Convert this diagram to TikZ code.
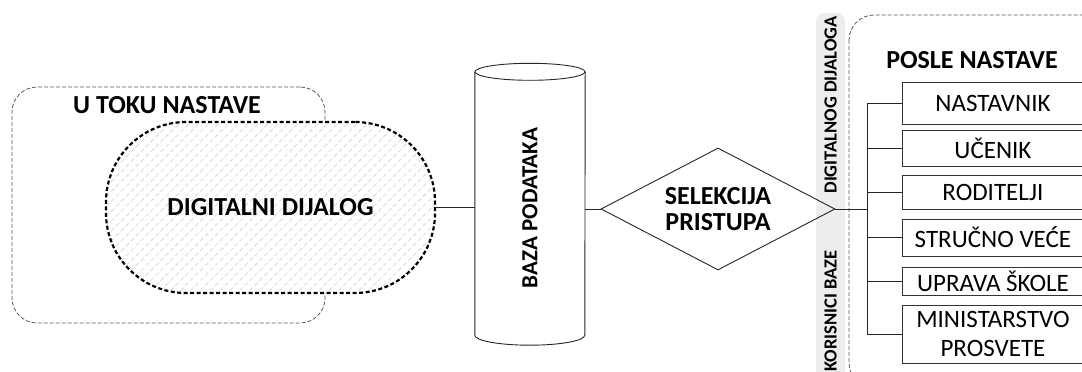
\documentclass[tikz,border=0pt]{standalone}
\usepackage{fontspec}
\setmainfont{Carlito}
\usetikzlibrary{shapes.geometric,patterns.meta}

\begin{document}
\begin{tikzpicture}[x=1pt,y=-1pt]
        \tikzset{frame/.style={draw=black!65,dash pattern=on 4pt off 2pt,line width=.8pt,rounded corners=25pt}}
        \tikzset{head/.style={font=\fontsize{26}{26}\selectfont\bfseries,align=center}}
        \tikzset{side/.style={font=\fontsize{18.5}{20}\selectfont\bfseries,rotate=90}}
        \tikzset{link/.style={draw=black!85,line width=.9pt}}
        \tikzset{user/.style={draw=black!80,line width=.9pt,minimum width=181pt,anchor=west,align=center,inner sep=0pt,font=\fontsize{25}{29}\selectfont}}
        \useasboundingbox (0,0) rectangle (1082,372);
        \clip (0,0) rectangle (1082,372);

        % u toku nastave
        \node[frame,minimum width=313pt,minimum height=236pt] (toku) at (168.5,205) {};
        \node[head] (tokuText) at (167,105) {U TOKU NASTAVE};
        \node[draw,line width=2.2pt,dash pattern=on 4pt off 2.5pt,rounded corners=80pt,
              minimum width=329pt,minimum height=171pt,preaction={fill=white},
              pattern={Lines[angle=45,distance=7pt,line width=.8pt]},pattern color=black!15,head]
              (dijalog) at (270.5,207.5) {DIGITALNI DIJALOG};

        % baza podataka
        \node[minimum width=110pt,minimum height=263pt,inner sep=0pt] (baza) at (530,203.5) {};
        \draw[link] (baza.north west) -- (baza.south west)
              arc[start angle=180,end angle=360,x radius=55pt,y radius=10pt] -- (baza.north east);
        \draw[link] (baza.north) ellipse[x radius=55pt,y radius=8.5pt];
        \node[head,font=\fontsize{23}{26}\selectfont\bfseries,rotate=90] (bazaText) at (530,208) {BAZA PODATAKA};

        % korisnici
        \fill[black!7,rounded corners=8pt] (816,13) rectangle (845,400);
        \node[side] (digText) at (830.5,105) {DIGITALNOG DIJALOGA};
        \node[side] (korText) at (830.5,311) {KORISNICI BAZE};
        \draw[frame] (849,15) rectangle (1120,388);
        \node[head] (posleText) at (972,60) {POSLE NASTAVE};

        \node[diamond,draw=black!85,line width=.9pt,minimum width=234pt,minimum height=122pt,
              inner sep=0pt,aspect=1.9,head] (sel) at (718,209) {SELEKCIJA\\PRISTUPA};

        \node[user,minimum height=42pt] (nastavnik) at (902,103) {NASTAVNIK};
        \node[user,minimum height=36pt] (ucenik) at (902,148) {UČENIK};
        \node[user,minimum height=34pt] (roditelji) at (902,192) {RODITELJI};
        \node[user,minimum height=37pt] (strucno) at (902,237.5) {STRUČNO VEĆE};
        \node[user,minimum height=28pt] (uprava) at (902,281) {UPRAVA ŠKOLE};
        \node[user,minimum height=58pt] (ministarstvo) at (902,334) {MINISTARSTVO\\PROSVETE};

        \coordinate (bus) at (867,209);

        \draw[link] (dijalog.east) -- (dijalog.east -| baza.west);
        \draw[link] (sel.west -| baza.east) -- (sel.west);
        \draw[link] (sel.east) -- (bus);
        \draw[link] (nastavnik.west -| bus) -- (ministarstvo.west -| bus);
        \draw[link] (nastavnik.west -| bus) -- (nastavnik.west);
        \draw[link] (ucenik.west -| bus) -- (ucenik.west);
        \draw[link] (roditelji.west -| bus) -- (roditelji.west);
        \draw[link] (strucno.west -| bus) -- (strucno.west);
        \draw[link] (uprava.west -| bus) -- (uprava.west);
        \draw[link] (ministarstvo.west -| bus) -- (ministarstvo.west);
    \end{tikzpicture}
\end{document}
